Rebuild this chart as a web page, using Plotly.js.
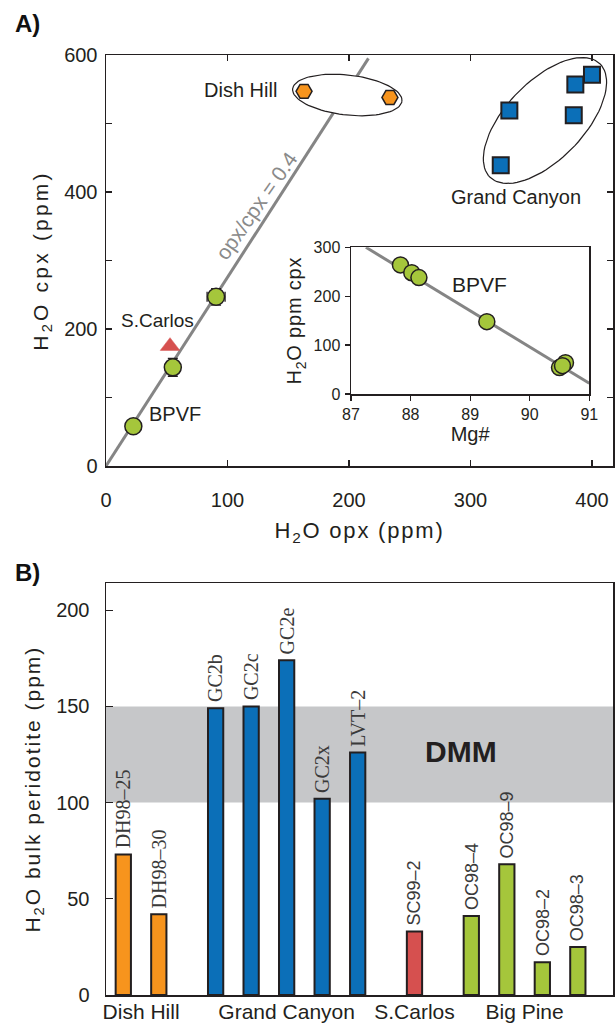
<!DOCTYPE html>
<html>
<head>
<meta charset="utf-8">
<script src="https://cdn.plot.ly/plotly-3.0.1.min.js"></script>
<style>
  html, body { margin: 0; padding: 0; background: #fff; }
  #chart { width: 616px; height: 1024px; }
  .ytitle { letter-spacing: 3.2px; }
  .xtitle { letter-spacing: 1.8px; }
  .y2title { letter-spacing: 2px; }
  .y3title { letter-spacing: 0.8px; }
</style>
</head>
<body>
<div id="chart"></div>
<script>
// ---------------- DATA ----------------
// Panel A: H2O in opx vs cpx (ppm)
const bpvfOpx = [22.5, 55, 90.6];
const bpvfCpx = [58, 144, 247];
const bpvfErrOpx = [0, 0, 7.4];
const bpvfErrCpx = [0, 13, 12];
const sanCarlosOpx = [52.7];
const sanCarlosCpx = [175];
const dishHillOpx = [163, 233.7];
const dishHillCpx = [547, 538];
const grandCanyonOpx = [400, 386.3, 332, 385, 324.9];
const grandCanyonCpx = [571, 557, 519, 512, 439];
const ratioLineOpx = [0, 216];
const ratioLineCpx = [0, 595];

// Inset: Mg# vs H2O cpx (BPVF)
const insetMg = [87.83, 88.02, 88.14, 89.28, 90.5, 90.6, 90.55];
const insetCpx = [264, 248, 238, 148, 54, 64, 58];
const insetLineMg = [87.25, 91];
const insetLineCpx = [300, 22];

// Panel B: H2O bulk peridotite (ppm)
const sampleNames = ['DH98–25', 'DH98–30', 'GC2b', 'GC2c', 'GC2e', 'GC2x', 'LVT–2',
                     'SC99–2', 'OC98–4', 'OC98–9', 'OC98–2', 'OC98–3'];
const sampleGroups = ['Dish Hill', 'Dish Hill', 'Grand Canyon', 'Grand Canyon', 'Grand Canyon',
                      'Grand Canyon', 'Grand Canyon', 'S.Carlos', 'Big Pine', 'Big Pine', 'Big Pine', 'Big Pine'];
const bulkH2O = [73, 42, 149, 150, 174, 102, 126, 33, 41, 68, 17, 25];
const groupNames = ['Dish Hill', 'Grand Canyon', 'S.Carlos', 'Big Pine'];
const dmmRange = [100, 150];

// ---------------- STYLE ----------------
const W = 616, H = 1024;
const INK = '#231f20';
const SANS = 'Liberation Sans, Arial, Helvetica, sans-serif';
const SERIF = 'Liberation Serif, Times New Roman, serif';
const C_ORANGE = '#f7941d', C_BLUE = '#0b6fb8', C_RED = '#d6504f', C_GREEN = '#a5c63b';
const groupColor = {'Dish Hill': C_ORANGE, 'Grand Canyon': C_BLUE, 'S.Carlos': C_RED, 'Big Pine': C_GREEN};
const groupLabelFont = {'Dish Hill': [SERIF, 20], 'Grand Canyon': [SERIF, 20], 'S.Carlos': [SANS, 18], 'Big Pine': [SANS, 18]};

// layout geometry (pixels)
const PX = {left: 106, right: 613, aTop: 55, aBottom: 466, bTop: 583.3, bBottom: 995,
            iLeft: 351, iRight: 589.3, iTop: 247.3, iBottom: 394};
const xRangeA = [0, 417.3], yRangeA = [0, 600];
const groupGap = 0.6;

// bar positions from group membership
const barPos = [];
(function () {
  let g = -1, prev = null;
  sampleGroups.forEach((grp, i) => { if (grp !== prev) { g++; prev = grp; } barPos.push(i + groupGap * g); });
})();
const groupCenters = groupNames.map(gn => {
  const p = barPos.filter((_, i) => sampleGroups[i] === gn);
  return p.reduce((a, b) => a + b, 0) / p.length;
});

// ellipse outlines (annotation shapes), defined in pixel radii around data centres
const sx = (PX.right - PX.left) / (xRangeA[1] - xRangeA[0]);
const sy = (PX.aBottom - PX.aTop) / (yRangeA[1] - yRangeA[0]);
function ellipse(cx, cy, a, b, angDeg) {
  const th = angDeg * Math.PI / 180, xs = [], ys = [];
  for (let k = 0; k <= 90; k++) {
    const t = 2 * Math.PI * k / 90;
    const dx = a * Math.cos(t) * Math.cos(th) - b * Math.sin(t) * Math.sin(th);
    const dy = a * Math.cos(t) * Math.sin(th) + b * Math.sin(t) * Math.cos(th);
    xs.push(cx + dx / sx); ys.push(cy + dy / sy);
  }
  return {x: xs, y: ys, type: 'scatter', mode: 'lines', fill: 'toself', fillcolor: '#ffffff',
          line: {color: INK, width: 1.2}, xaxis: 'x', yaxis: 'y', hoverinfo: 'skip'};
}

const markerLine = {color: INK, width: 1.5};

const traces = [
  {x: ratioLineOpx, y: ratioLineCpx, type: 'scatter', mode: 'lines',
   line: {color: '#858585', width: 3}, xaxis: 'x', yaxis: 'y'},
  ellipse(198.6, 541.6, 55, 20, -6.4),
  ellipse(361.3, 504.4, 79, 39, 46),
  {x: dishHillOpx, y: dishHillCpx, type: 'scatter', mode: 'markers',
   marker: {symbol: 'hexagon2', size: 16, color: C_ORANGE, line: markerLine}, xaxis: 'x', yaxis: 'y'},
  {x: grandCanyonOpx, y: grandCanyonCpx, type: 'scatter', mode: 'markers',
   marker: {symbol: 'square', size: 16, color: C_BLUE, line: {color: INK, width: 2}}, xaxis: 'x', yaxis: 'y'},
  {x: sanCarlosOpx, y: sanCarlosCpx, type: 'scatter', mode: 'markers',
   marker: {symbol: 'triangle-up', size: 17, color: C_RED, line: {color: C_RED, width: 0.5}}, xaxis: 'x', yaxis: 'y'},
  {x: bpvfOpx, y: bpvfCpx, type: 'scatter', mode: 'markers',
   marker: {symbol: 'circle', size: 17, color: C_GREEN, line: markerLine},
   error_x: {type: 'data', array: bpvfErrOpx, color: INK, thickness: 1.3, width: 5},
   error_y: {type: 'data', array: bpvfErrCpx, color: INK, thickness: 1.3, width: 5},
   xaxis: 'x', yaxis: 'y'},
  // inset
  {x: insetLineMg, y: insetLineCpx, type: 'scatter', mode: 'lines',
   line: {color: '#858585', width: 3}, xaxis: 'x3', yaxis: 'y3'},
  {x: insetMg, y: insetCpx, type: 'scatter', mode: 'markers',
   marker: {symbol: 'circle', size: 16, color: C_GREEN, line: markerLine}, xaxis: 'x3', yaxis: 'y3'},
  // panel B bars
  {x: barPos, y: bulkH2O, type: 'bar', width: 0.43, xaxis: 'x2', yaxis: 'y2',
   marker: {color: sampleGroups.map(g => groupColor[g]), line: {color: INK, width: 2}}}
];

// rotated sample labels above each bar
const barLabels = sampleNames.map((name, i) => ({
  xref: 'x2', yref: 'y2', x: barPos[i], y: bulkH2O[i], text: name, showarrow: false,
  textangle: -90, xanchor: 'center', yanchor: 'bottom', yshift: 5, borderpad: 0,
  font: {family: groupLabelFont[sampleGroups[i]][0], size: groupLabelFont[sampleGroups[i]][1], color: '#3a3a3a'}
}));

const axFrame = {showline: true, linecolor: INK, linewidth: 1.5, showgrid: false, zeroline: false,
                 tickcolor: INK, tickwidth: 1.3, fixedrange: true};

const layout = {
  width: W, height: H, margin: {l: 0, r: 0, t: 0, b: 0},
  paper_bgcolor: '#ffffff', plot_bgcolor: 'rgba(0,0,0,0)',
  showlegend: false, hovermode: false, bargap: 0,
  font: {family: SANS, color: INK, size: 20},
  xaxis: Object.assign({}, axFrame, {
    domain: [PX.left / W, PX.right / W], range: xRangeA, anchor: 'y',
    tickmode: 'linear', tick0: 0, dtick: 100, ticks: 'inside', ticklen: 6, mirror: 'ticks',
    tickfont: {size: 20}, ticklabelstandoff: 15,
    title: {text: 'H<sub>2</sub>O opx (ppm)', font: {size: 22}, standoff: 13}}),
  yaxis: Object.assign({}, axFrame, {
    domain: [1 - PX.aBottom / H, 1 - PX.aTop / H], range: yRangeA, anchor: 'x',
    tickmode: 'linear', tick0: 0, dtick: 200,
    minor: {dtick: 100, ticks: 'inside', ticklen: 6, tickcolor: INK, tickwidth: 1.3, showgrid: false},
    ticks: 'inside', ticklen: 6, mirror: 'ticks', tickfont: {size: 20}, ticklabelstandoff: 3,
    title: {text: 'H<sub>2</sub>O cpx (ppm)', font: {size: 21}, standoff: 10}}),
  xaxis2: Object.assign({}, axFrame, {
    domain: [PX.left / W, PX.right / W], range: [-0.487, 13.79], anchor: 'y2',
    tickvals: groupCenters, ticktext: groupNames, ticks: '', mirror: true,
    tickfont: {size: 21}, ticklabelstandoff: -3}),
  yaxis2: Object.assign({}, axFrame, {
    domain: [1 - PX.bBottom / H, 1 - PX.bTop / H], range: [0, 214], anchor: 'x2',
    tickmode: 'linear', tick0: 0, dtick: 50, ticks: 'inside', ticklen: 7, mirror: true,
    tickfont: {size: 20}, ticklabelstandoff: 11,
    title: {text: 'H<sub>2</sub>O bulk peridotite (ppm)', font: {size: 21}, standoff: 10}}),
  xaxis3: Object.assign({}, axFrame, {
    domain: [PX.iLeft / W, PX.iRight / W], range: [87, 91], anchor: 'y3',
    tickmode: 'linear', tick0: 87, dtick: 1, ticks: 'outside', ticklen: 5, mirror: true,
    tickfont: {size: 16}, ticklabelstandoff: 0,
    title: {text: 'Mg#', font: {size: 20}, standoff: 4}}),
  yaxis3: Object.assign({}, axFrame, {
    domain: [1 - PX.iBottom / H, 1 - PX.iTop / H], range: [0, 300], anchor: 'x3',
    tickmode: 'linear', tick0: 0, dtick: 100, ticks: 'outside', ticklen: 5, mirror: true,
    tickfont: {size: 16}, ticklabelstandoff: 1,
    title: {text: 'H<sub>2</sub>O ppm cpx', font: {size: 20}, standoff: 6}}),
  shapes: [
    {type: 'rect', xref: 'x2 domain', yref: 'y2', x0: 0, x1: 1, y0: dmmRange[0], y1: dmmRange[1],
     fillcolor: '#c6c7c9', line: {width: 0}, layer: 'below'}
  ],
  annotations: [
    {xref: 'paper', yref: 'paper', x: 27.5 / W, y: 1 - 23 / H, text: '<b>A)</b>', showarrow: false,
     font: {size: 24, color: '#111'}, xanchor: 'center', yanchor: 'middle'},
    {xref: 'paper', yref: 'paper', x: 27.5 / W, y: 1 - 572 / H, text: '<b>B)</b>', showarrow: false,
     font: {size: 24, color: '#111'}, xanchor: 'center', yanchor: 'middle'},
    {xref: 'x', yref: 'y', x: 110.5, y: 549, text: 'Dish Hill', showarrow: false, font: {size: 20}},
    {xref: 'x', yref: 'y', x: 337.2, y: 393, text: 'Grand Canyon', showarrow: false, font: {size: 20}},
    {xref: 'x', yref: 'y', x: 42, y: 213, text: 'S.Carlos', showarrow: false, font: {size: 19}},
    {xref: 'x', yref: 'y', x: 56.8, y: 76, text: 'BPVF', showarrow: false, font: {size: 20}},
    {xref: 'x', yref: 'y', x: 123.8, y: 381, text: 'opx/cpx = 0.4', showarrow: false, textangle: -55,
     font: {size: 21, color: '#8a8a8a'}},
    {xref: 'x3', yref: 'y3', x: 89.16, y: 223, text: 'BPVF', showarrow: false, font: {size: 21}},
    {xref: 'paper', yref: 'y2', x: 499 / W, y: 126.5, text: '<b>DMM</b>', showarrow: false,
     font: {size: 30, color: INK}}
  ].concat(barLabels)
};

Plotly.newPlot('chart', traces, layout, {staticPlot: true, displayModeBar: false});
</script>
</body>
</html>
